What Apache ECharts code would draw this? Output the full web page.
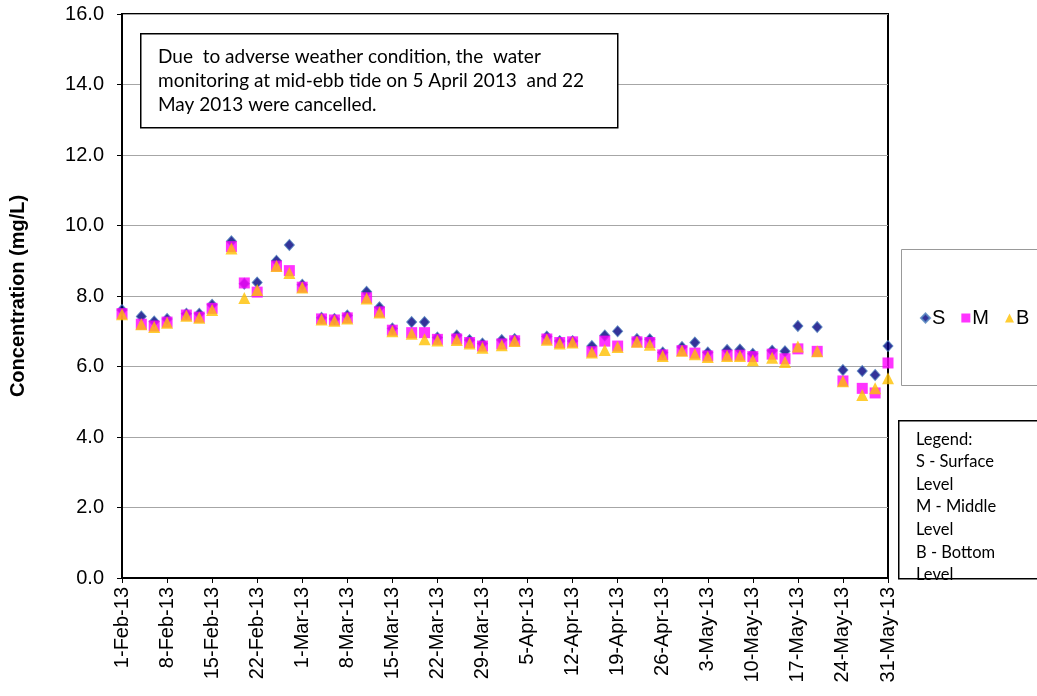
<!DOCTYPE html>
<html>
<head>
<meta charset="utf-8">
<script src="https://cdn.jsdelivr.net/npm/echarts@6/dist/echarts.min.js"></script>
<style>html,body{margin:0;padding:0;background:#fff}#c{width:1037px;height:696px}</style>
</head>
<body>
<div id="c"></div>
<script>
// Sampling dates
const dates = [
  "2013-02-01","2013-02-04","2013-02-06","2013-02-08","2013-02-11","2013-02-13","2013-02-15","2013-02-18","2013-02-20","2013-02-22","2013-02-25","2013-02-27",
  "2013-03-01","2013-03-04","2013-03-06","2013-03-08","2013-03-11","2013-03-13","2013-03-15","2013-03-18","2013-03-20","2013-03-22","2013-03-25","2013-03-27","2013-03-29",
  "2013-04-01","2013-04-03","2013-04-08","2013-04-10","2013-04-12","2013-04-15","2013-04-17","2013-04-19","2013-04-22","2013-04-24","2013-04-26","2013-04-29",
  "2013-05-01","2013-05-03","2013-05-06","2013-05-08","2013-05-10","2013-05-13","2013-05-15","2013-05-17","2013-05-20","2013-05-24","2013-05-27","2013-05-29","2013-05-31"
];
// Surface level
const surface = [
  7.6, 7.42, 7.28, 7.35, 7.5, 7.5, 7.75, 9.55, 8.35, 8.38, 9.0, 9.45,
  8.32, 7.38, 7.35, 7.45, 8.12, 7.68, 7.08, 7.26, 7.26, 6.82, 6.88, 6.75, 6.65,
  6.75, 6.78, 6.85, 6.72, 6.72, 6.58, 6.88, 7.0, 6.78, 6.77, 6.4, 6.55,
  6.68, 6.4, 6.47, 6.48, 6.36, 6.45, 6.43, 7.15, 7.12, 5.9, 5.87, 5.76, 6.58
];
// Middle level
const middle = [
  7.5, 7.2, 7.15, 7.26, 7.46, 7.4, 7.65, 9.4, 8.37, 8.11, 8.85, 8.72,
  8.25, 7.35, 7.32, 7.38, 7.95, 7.55, 7.03, 6.96, 6.96, 6.77, 6.78, 6.68, 6.58,
  6.64, 6.73, 6.78, 6.68, 6.7, 6.42, 6.72, 6.58, 6.7, 6.68, 6.33, 6.45,
  6.38, 6.3, 6.32, 6.32, 6.28, 6.35, 6.22, 6.5, 6.43, 5.59, 5.38, 5.25, 6.1
];
// Bottom level
const bottom = [
  7.48, 7.2, 7.12, 7.24, 7.44, 7.38, 7.6, 9.35, 7.94, 8.17, 8.85, 8.65,
  8.24, 7.33, 7.3, 7.36, 7.93, 7.53, 7.0, 6.93, 6.77, 6.74, 6.75, 6.65, 6.53,
  6.6, 6.72, 6.76, 6.65, 6.68, 6.4, 6.47, 6.55, 6.7, 6.62, 6.3, 6.45,
  6.35, 6.27, 6.3, 6.3, 6.18, 6.25, 6.13, 6.57, 6.43, 5.58, 5.19, 5.38, 5.67
];
const startDate = "2013-02-01";
const endDate = "2013-05-31";
const yTicks = [0, 2, 4, 6, 8, 10, 12, 14, 16];
const noteLines = [
  "Due  to adverse weather condition, the  water",
  "monitoring at mid-ebb tide on 5 April 2013  and 22",
  "May 2013 were cancelled."
];
const keyLines = ["Legend:", "S - Surface", "Level", "M - Middle", "Level", "B - Bottom", "Level"];

const MONTHS = ["Jan","Feb","Mar","Apr","May","Jun","Jul","Aug","Sep","Oct","Nov","Dec"];
function toUTC(s){ const p = s.split("-").map(Number); return Date.UTC(p[0], p[1]-1, p[2]); }
const t0 = toUTC(startDate);
const DAY = 86400000;
function dayIdx(s){ return Math.round((toUTC(s) - t0) / DAY); }
function fmtDay(d){
  const dt = new Date(t0 + d * DAY);
  return dt.getUTCDate() + "-" + MONTHS[dt.getUTCMonth()] + "-" + String(dt.getUTCFullYear()).slice(2);
}
function pts(vals){ return vals.map((v, i) => [dayIdx(dates[i]), v]); }

const FONT = "Liberation Sans";
const NOTEFONT = "Lato";

const chart = echarts.init(document.getElementById("c"), null, {renderer: "canvas"});
chart.setOption({
  animation: false,
  backgroundColor: "#fff",
  grid: {left: 122, right: 149, top: 14, bottom: 118, show: true, borderColor: "#000", borderWidth: 2, backgroundColor: "transparent"},
  xAxis: {
    type: "value", min: 0, max: dayIdx(endDate), interval: 7,
    axisLine: {show: true, lineStyle: {color: "#000", width: 2}},
    axisTick: {show: true, length: 5, lineStyle: {color: "#000"}},
    splitLine: {show: false},
    axisLabel: {rotate: 90, formatter: v => fmtDay(v), fontFamily: FONT, fontSize: 20, color: "#000", margin: 9}
  },
  yAxis: {
    type: "value", min: yTicks[0], max: yTicks[yTicks.length-1], interval: yTicks[1]-yTicks[0],
    name: "Concentration (mg/L)", nameLocation: "middle", nameGap: 94, nameRotate: 90,
    nameTextStyle: {fontFamily: FONT, fontSize: 20, fontWeight: "bold", color: "#000"},
    axisLine: {show: true, lineStyle: {color: "#000", width: 2}},
    axisTick: {show: true, length: 5, lineStyle: {color: "#000"}},
    splitLine: {show: true, lineStyle: {color: "#a6a6a6", width: 1}},
    axisLabel: {formatter: v => v.toFixed(1), fontFamily: FONT, fontSize: 20, color: "#000", margin: 18}
  },
  legend: {
    left: 920, top: 308, width: 117, padding: 0, orient: "horizontal", itemGap: 16, itemWidth: 9, itemHeight: 9,
    textStyle: {fontFamily: FONT, fontSize: 20, color: "#000", padding: [0, 0, 0, -3]},
    data: [{name: "S", icon: "diamond"}, {name: "M", icon: "rect"}, {name: "B", icon: "triangle"}]
  },
  series: [
    {name: "S", type: "scatter", data: pts(surface), symbol: "diamond", symbolSize: [10, 11],
     itemStyle: {color: "#000080", borderColor: "#4F81BD", borderWidth: 1}, z: 2},
    {name: "M", type: "scatter", data: pts(middle), symbol: "rect", symbolSize: 11,
     itemStyle: {color: "#FF00FF"}, z: 3},
    {name: "B", type: "scatter", data: pts(bottom), symbol: "triangle", symbolSize: [12, 12],
     itemStyle: {color: "#FFC000"}, z: 4}
  ],
  graphic: [
    {type: "rect", left: 140, top: 33, shape: {width: 477, height: 94},
     style: {fill: "#fff", stroke: "#000", lineWidth: 1.5}, z: 10},
    {type: "text", left: 158, top: 45, z: 11,
     style: {text: noteLines.join("\n"), font: "19px " + NOTEFONT, fill: "#000", lineHeight: 24}},
    {type: "rect", left: 901, top: 249, shape: {width: 150, height: 136},
     style: {fill: "transparent", stroke: "#999", lineWidth: 1}, z: 1},
    {type: "rect", left: 898, top: 420, shape: {width: 150, height: 158},
     style: {fill: "#fff", stroke: "#000", lineWidth: 1.5}, z: 10},
    {type: "text", left: 916, top: 428, z: 11,
     style: {text: keyLines.join("\n"), font: "16.5px " + NOTEFONT, fill: "#000", lineHeight: 22.6}}
  ]
});
</script>
</body>
</html>
